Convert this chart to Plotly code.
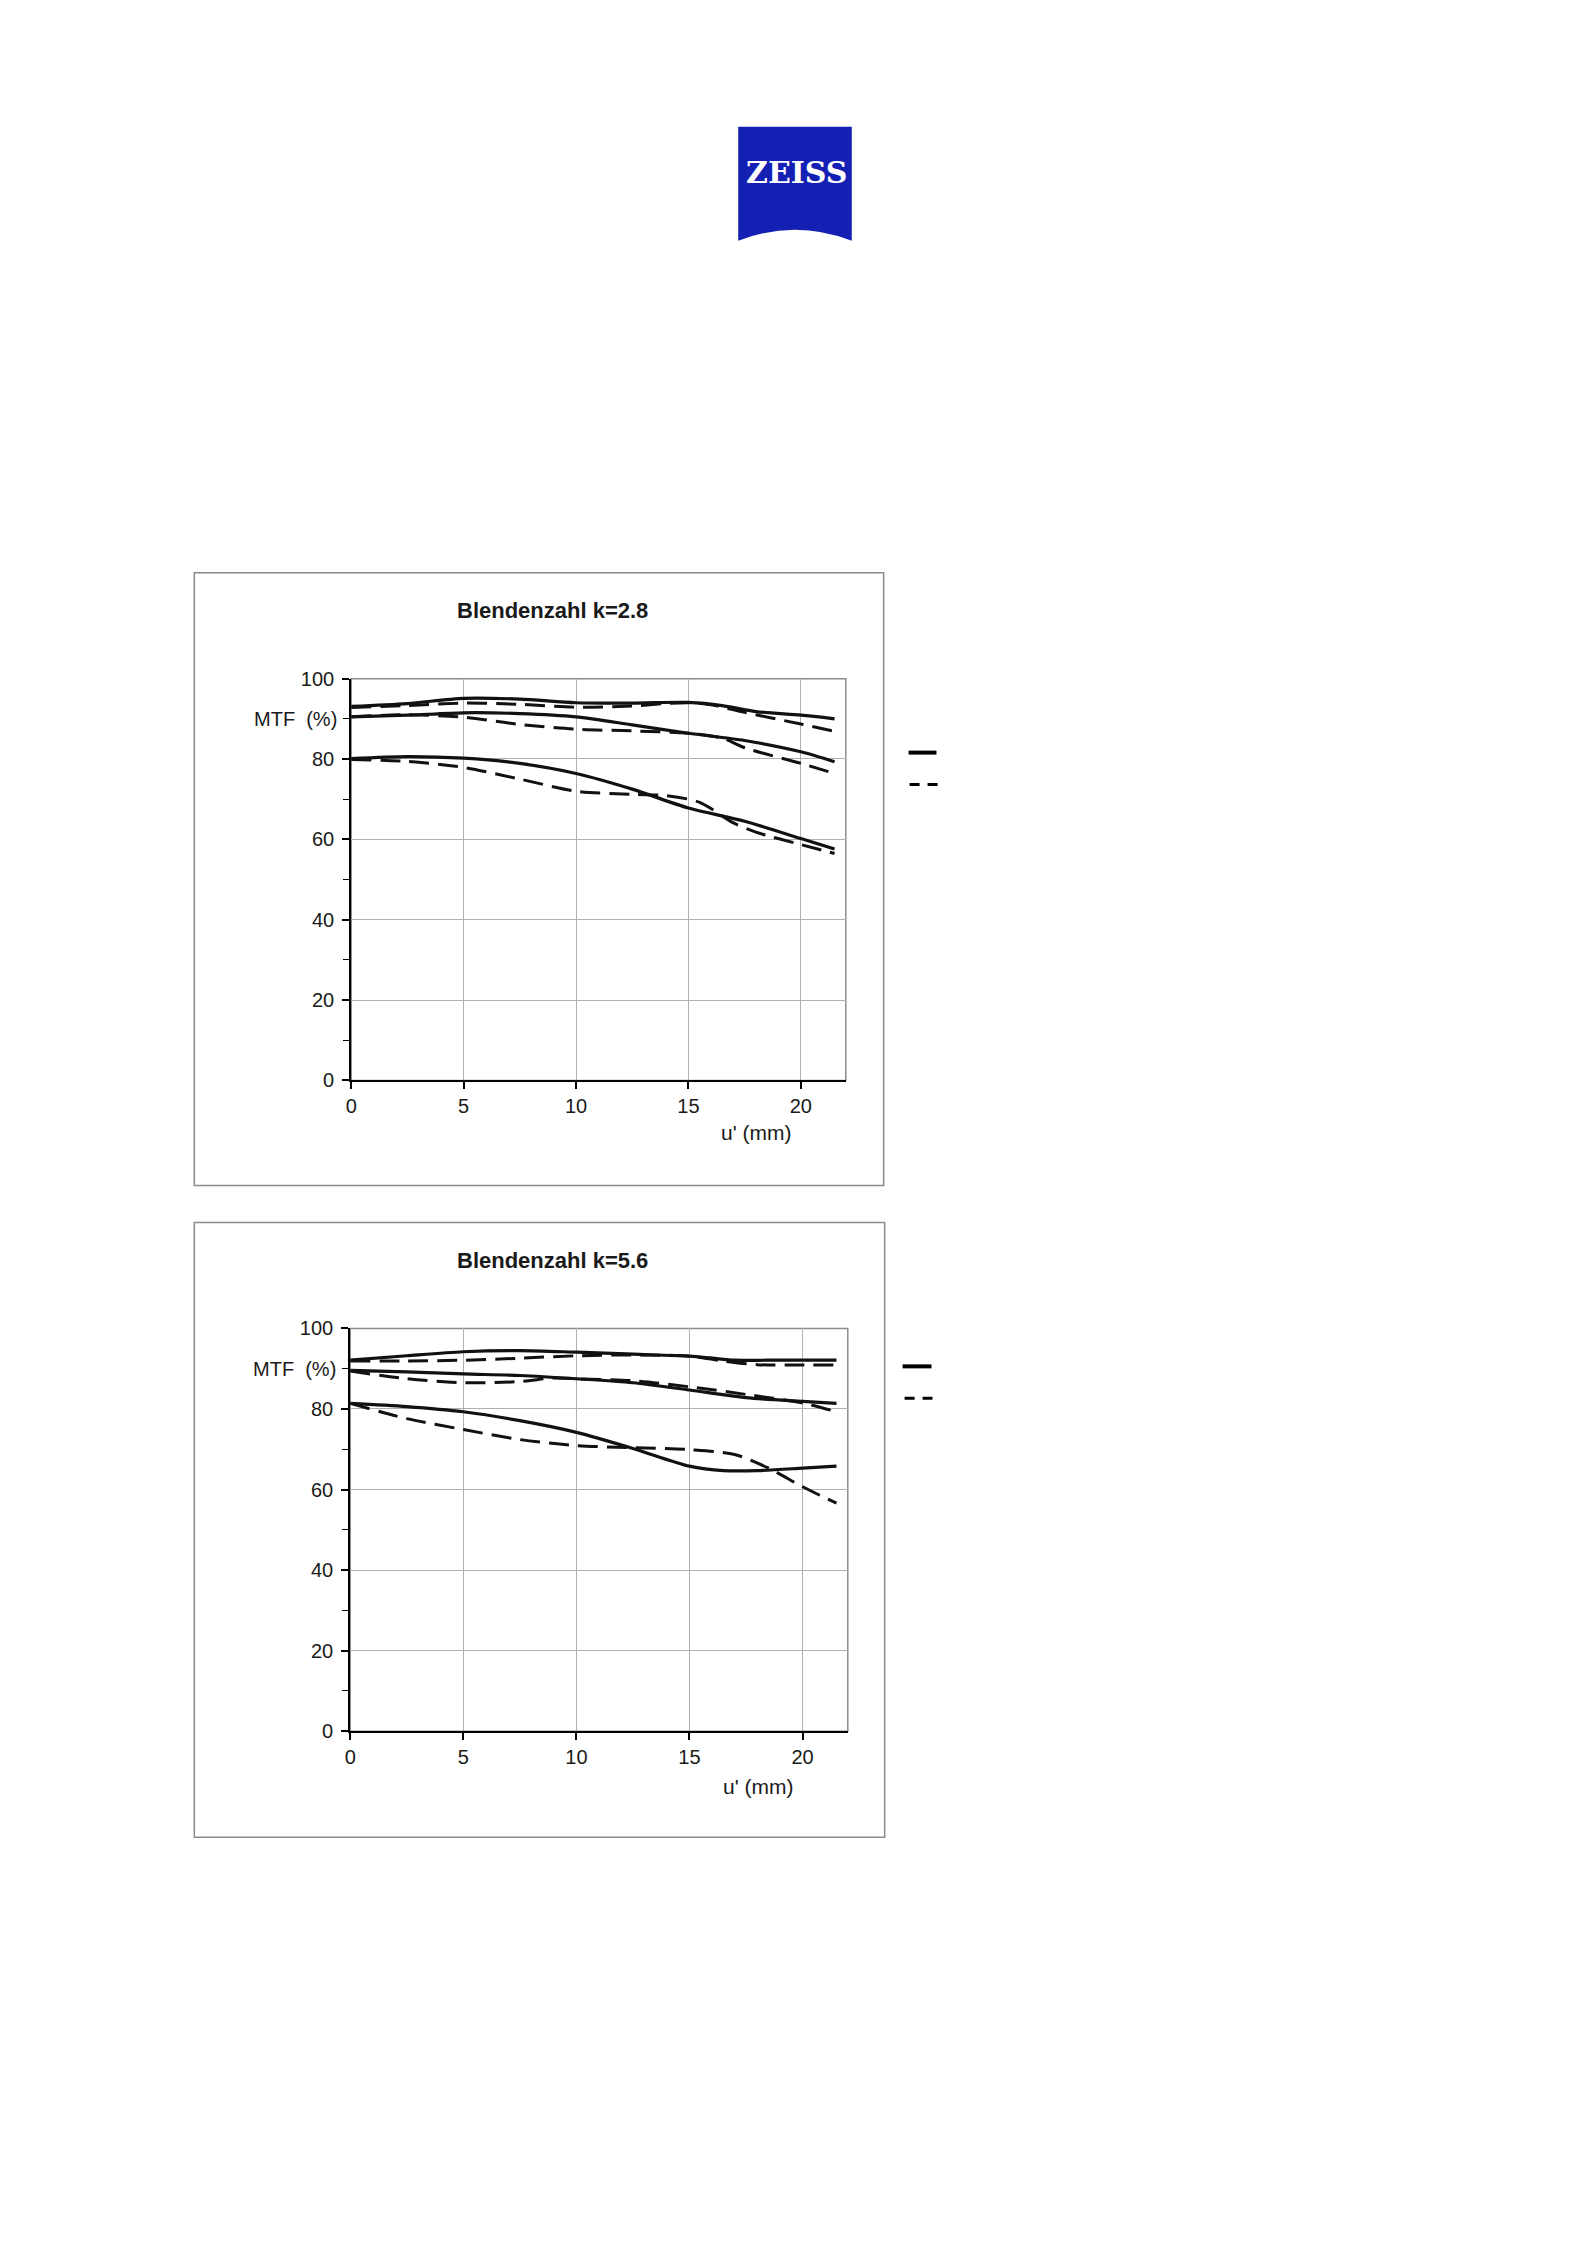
import plotly.graph_objects as go

# ---------------- data ----------------
# Blendenzahl k=2.8
k28_s1_x = [0, 2.5, 5, 7.5, 10, 12.5, 15, 16.5, 18, 20, 21.5]
k28_s1_y = [93.1, 93.8, 95.1, 94.9, 94.0, 93.9, 94.1, 93.3, 91.8, 90.9, 90.0]
k28_d1_x = [0, 2.5, 5, 7.5, 10, 12.5, 14, 15, 16, 17.5, 20, 21.5]
k28_d1_y = [92.8, 93.3, 93.9, 93.6, 92.9, 93.2, 93.8, 94.0, 93.5, 91.6, 88.7, 86.9]
k28_s2_x = [0, 2.5, 5, 7.5, 10, 12.5, 15, 17.5, 20, 21.5]
k28_s2_y = [90.5, 90.9, 91.5, 91.3, 90.5, 88.5, 86.4, 84.6, 81.8, 79.3]
k28_d2_x = [0, 2.5, 5, 7.5, 10, 12.5, 15, 16.5, 17.5, 20, 21.5]
k28_d2_y = [90.5, 91.0, 90.4, 88.6, 87.4, 87.0, 86.4, 85.2, 82.8, 78.9, 76.4]
k28_s3_x = [0, 2.5, 5, 7.5, 10, 12.5, 15, 17.5, 20, 21.5]
k28_s3_y = [80.1, 80.6, 80.2, 78.9, 76.4, 72.5, 67.8, 64.5, 60.2, 57.6]
k28_d3_x = [0, 2.5, 5, 7.5, 10, 12.5, 14, 15.5, 17, 18, 20, 21.5]
k28_d3_y = [79.9, 79.4, 77.9, 75.0, 72.0, 71.2, 70.9, 69.2, 64.1, 61.8, 58.7, 56.5]

# Blendenzahl k=5.6
k56_s1_x = [0, 2.5, 5, 7.5, 10, 12.5, 15, 16, 17, 18.5, 20, 21.5]
k56_s1_y = [92.1, 93.2, 94.2, 94.5, 94.1, 93.6, 93.1, 92.6, 92.1, 92.1, 92.1, 92.1]
k56_d1_x = [0, 2.5, 5, 7.5, 10, 12.5, 15, 16.5, 18, 20, 21.5]
k56_d1_y = [91.9, 91.9, 92.1, 92.6, 93.2, 93.4, 93.1, 91.9, 91.0, 90.9, 90.9]
k56_s2_x = [0, 2.5, 5, 7.5, 10, 12.5, 15, 17.5, 20, 21.5]
k56_s2_y = [89.6, 89.2, 88.7, 88.3, 87.5, 86.5, 84.7, 82.8, 81.9, 81.4]
k56_d2_x = [0, 2.5, 5, 7.5, 9, 10, 12.5, 15, 17.5, 20, 21.5]
k56_d2_y = [89.4, 87.5, 86.5, 86.8, 87.7, 87.5, 87.0, 85.5, 83.6, 81.5, 79.3]
k56_s3_x = [0, 2.5, 5, 7.5, 10, 12.5, 15, 16.5, 18, 20, 21.5]
k56_s3_y = [81.4, 80.6, 79.3, 77.1, 74.2, 70.2, 65.8, 64.7, 64.7, 65.3, 65.8]
k56_d3_x = [0, 2.5, 5, 7.5, 10, 12.5, 15, 17, 18.5, 20, 21.5]
k56_d3_y = [81.4, 77.6, 74.9, 72.4, 70.9, 70.4, 69.9, 68.7, 65.3, 60.7, 56.6]

titles = ["Blendenzahl k=2.8", "Blendenzahl k=5.6"]
x_ticks = [0, 5, 10, 15, 20]
y_ticks = [0, 20, 40, 60, 80, 100]
y_label = "MTF  (%)"
x_label = "u' (mm)"

# ---------------- layout helpers ----------------
PAGE_W, PAGE_H = 1588, 2245
OFF = 8  # default body margin of the html page
W, H = PAGE_W - 2 * OFF, PAGE_H - 2 * OFF
# empirical correction of the page capture (target pixel -> page pixel)
X_SHIFT = 3.0
Y_SCALE, Y_OFF = 0.9905, 12.2
def px(x):
    return ((x - X_SHIFT) - OFF) / W
def py(y):
    return 1 - ((y - Y_OFF) / Y_SCALE - OFF) / H

FONT = "Arial, 'Liberation Sans', sans-serif"
TXT = "#1a1a1a"

fig = go.Figure()

charts = [
    dict(xa="x", ya="y",
         series=[(k28_s1_x, k28_s1_y, "solid"), (k28_d1_x, k28_d1_y, "dash"),
                 (k28_s2_x, k28_s2_y, "solid"), (k28_d2_x, k28_d2_y, "dash"),
                 (k28_s3_x, k28_s3_y, "solid"), (k28_d3_x, k28_d3_y, "dash")]),
    dict(xa="x2", ya="y2",
         series=[(k56_s1_x, k56_s1_y, "solid"), (k56_d1_x, k56_d1_y, "dash"),
                 (k56_s2_x, k56_s2_y, "solid"), (k56_d2_x, k56_d2_y, "dash"),
                 (k56_s3_x, k56_s3_y, "solid"), (k56_d3_x, k56_d3_y, "dash")]),
]

for c in charts:
    for xs, ys, st in c["series"]:
        fig.add_trace(go.Scatter(
            x=xs, y=ys, xaxis=c["xa"], yaxis=c["ya"], mode="lines",
            line=dict(color="#111111", width=3.2 if st == "solid" else 3.0,
                      shape="spline", smoothing=0.8,
                      dash="solid" if st == "solid" else "20px,9px"),
            showlegend=False, hoverinfo="skip"))

# plot-area geometry (target pixels)
areas = [
    dict(x0=349.5, x1=846, y0=680, y1=1082, box=(192, 574, 884, 1187),
         title_y=612, xlab=(756, 1134), leg=((909, 937, 754), (910, 939, 786))),
    dict(x0=348.5, x1=848, y0=1330, y1=1733, box=(192, 1224, 885, 1839),
         title_y=1262, xlab=(758, 1788), leg=((903, 932, 1368), (905, 933, 1400))),
]

axis_common = dict(
    showline=True, linecolor="black", linewidth=2,
    ticks="outside", ticklen=7, tickwidth=1.5, tickcolor="black",
    showgrid=True, gridcolor="#b0b0b0", gridwidth=1,
    zeroline=False, tickfont=dict(family=FONT, size=20, color=TXT),
    fixedrange=True,
)

layout_axes = {}
shapes = []
annotations = []
for i, a in enumerate(areas):
    sx = "" if i == 0 else str(i + 1)
    layout_axes["xaxis" + sx] = dict(
        axis_common, domain=[px(a["x0"]), px(a["x1"])], range=[0, 22],
        tickvals=x_ticks, anchor="y" + sx)
    layout_axes["yaxis" + sx] = dict(
        axis_common, domain=[py(a["y1"]), py(a["y0"])], range=[0, 100],
        tickvals=y_ticks, anchor="x" + sx, ticklabelstandoff=4,
        minor=dict(dtick=10, ticks="outside", ticklen=6, tickwidth=1.2,
                   tickcolor="black", showgrid=False))
    # gray frame of plot area (top/right)
    shapes.append(dict(type="rect", xref="x" + sx + " domain", yref="y" + sx + " domain",
                       x0=0, x1=1, y0=0, y1=1, line=dict(color="#8c8c8c", width=1.5),
                       layer="below"))
    # outer chart box
    bx0, by0, bx1, by1 = a["box"]
    shapes.append(dict(type="rect", xref="paper", yref="paper",
                       x0=px(bx0), x1=px(bx1), y0=py(by1), y1=py(by0),
                       line=dict(color="#8a8a8a", width=1.5)))
    # legend glyphs
    (lx0, lx1, ly), (dx0, dx1, dy) = a["leg"]
    shapes.append(dict(type="line", xref="paper", yref="paper",
                       x0=px(lx0), x1=px(lx1), y0=py(ly), y1=py(ly),
                       line=dict(color="black", width=4)))
    shapes.append(dict(type="line", xref="paper", yref="paper",
                       x0=px(dx0), x1=px(dx1), y0=py(dy), y1=py(dy),
                       line=dict(color="black", width=3, dash="10px,8px")))
    # title
    annotations.append(dict(text="<b>" + titles[i] + "</b>", xref="paper", yref="paper",
                            x=px(552), y=py(a["title_y"]), showarrow=False,
                            xanchor="center", yanchor="middle",
                            font=dict(family=FONT, size=22, color=TXT)))
    # y label at the 90 position
    annotations.append(dict(text=y_label, xref="x" + sx, yref="y" + sx,
                            x=0, y=90, xshift=-12, showarrow=False,
                            xanchor="right", yanchor="middle",
                            font=dict(family=FONT, size=20, color=TXT)))
    # x label
    annotations.append(dict(text=x_label, xref="paper", yref="paper",
                            x=px(a["xlab"][0]), y=py(a["xlab"][1]), showarrow=False,
                            xanchor="center", yanchor="middle",
                            font=dict(family=FONT, size=21, color=TXT)))

# ZEISS logo
L, R, T, B, APEX = 738, 852, 128, 242, 220
logo_path = "M {},{} L {},{} L {},{} Q {},{} {},{} Z".format(
    px(L), py(T), px(R), py(T), px(R), py(B), px((L + R) / 2), py(APEX), px(L), py(B))
shapes.append(dict(type="path", xref="paper", yref="paper", path=logo_path,
                   fillcolor="#1420b4", line=dict(width=0)))
annotations.append(dict(text="<b>ZEISS</b>", xref="paper", yref="paper",
                        x=px(796), y=py(174), showarrow=False,
                        xanchor="center", yanchor="middle",
                        font=dict(family="'DejaVu Serif', serif", size=30, color="white")))

fig.update_layout(
    width=W, height=H, margin=dict(l=0, r=0, t=0, b=0),
    paper_bgcolor="white", plot_bgcolor="white",
    showlegend=False, shapes=shapes, annotations=annotations,
    **layout_axes,
)

fig.write_html("out.html", config={"displayModeBar": False})
